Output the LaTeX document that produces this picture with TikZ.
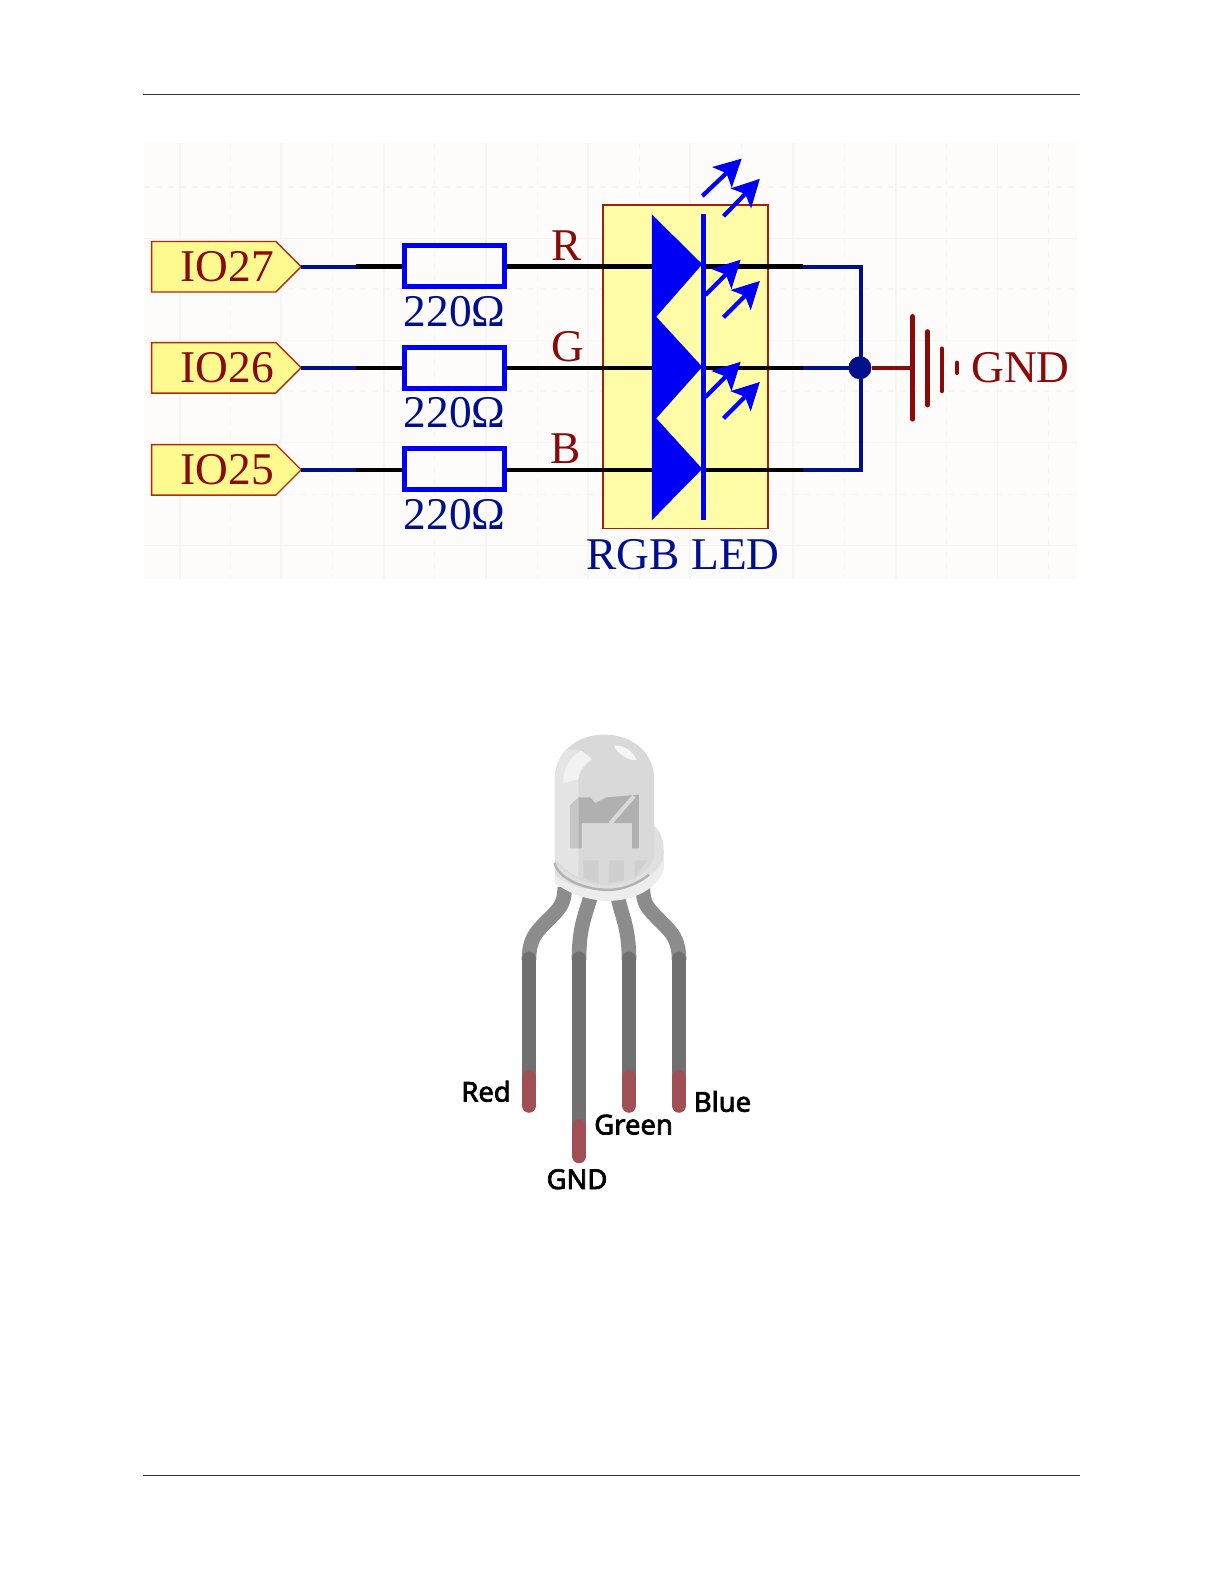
\documentclass[tikz,border=0pt]{standalone}
\usepackage{fontspec}
\setmainfont{Liberation Serif}
\newfontfamily\lblfont[FakeBold=2.6]{Noto Sans}
\usetikzlibrary{arrows.meta}
\definecolor{panelbg}{HTML}{FEFCFA}
\definecolor{gridc}{HTML}{F7F5F2}
\definecolor{tagfill}{HTML}{FFFA90}
\definecolor{boxfill}{HTML}{FFFCA8}
\definecolor{dkred}{HTML}{8A0A0A}
\definecolor{navyw}{HTML}{000F8C}
\definecolor{rblue}{HTML}{0000F5}
\definecolor{legup}{HTML}{8C8C8C}
\definecolor{legdn}{HTML}{707070}
\definecolor{legtip}{HTML}{A05055}
\tikzset{
  x=0.50525pt,y=-0.50525pt,
  rule/.style={line width=0.6pt,black!80},
  gridmaj/.style={gridc,line width=0.8pt},
  gridmin/.style={gridc,line width=0.6pt,dash pattern=on 3pt off 3pt},
  tagshape/.style={draw=dkred!70!orange,fill=tagfill,line width=0.7pt},
  tagtext/.style={text=dkred,font=\fontsize{22.7}{24}\selectfont,inner sep=0pt},
  valtext/.style={text=navyw,font=\fontsize{22.7}{24}\selectfont,inner sep=0pt},
  resistor/.style={draw=rblue,line width=2.4pt,minimum width=50pt,minimum height=20.5pt,inner sep=0pt},
  blackw/.style={black,line width=2.3pt},
  bluew/.style={navyw,line width=2.2pt},
  redw/.style={dkred,line width=2.2pt},
  ledbar/.style={rblue,line width=2.3pt},
  emit/.style={rblue,line width=2.1pt,-{Stealth[length=13.5pt,width=14pt,inset=3pt]}},
  batbar/.style={dkred,line width=2.2pt,line cap=round},
  pinlbl/.style={font=\lblfont\fontsize{13.7}{16}\selectfont,inner sep=0pt,text=black},
  legu/.style={legup,line width=7.3pt,line join=round},
  legd/.style={legdn,line width=7.3pt,line cap=round},
  legt/.style={legtip,line width=7.3pt,line cap=round},
}
\newcommand{\tagat}[3]{%
  \path[tagshape] (150,#1-25) -- (273,#1-25) -- (298,#1) -- (273,#1+25) -- (150,#1+25) -- cycle;
  \coordinate (#2tip) at (298,#1);
  \node[tagtext] (#2txt) at (225,#1) {#3};
}
\begin{document}
\begin{tikzpicture}
\useasboundingbox (0,0) rectangle (1211.3,1567.6);
\fill[white] (0,0) rectangle (1211.3,1567.6);
% page rules
\coordinate (rt1) at (142,93.5); \coordinate (rt2) at (1069,93.5);
\coordinate (rb1) at (142,1460); \coordinate (rb2) at (1069,1460);
\draw[rule] (rt1) -- (rt2);
\draw[rule] (rb1) -- (rb2);
% schematic sheet
\fill[panelbg] (143,142) rectangle (1066,573);
\foreach \gx in {228,329,430,532,633,734,836,937,1038} \draw[gridmin] (\gx,142) -- (\gx,573);
\foreach \gy in {185,286,387,489} \draw[gridmin] (143,\gy) -- (1066,\gy);
\foreach \gx in {178,278,380,481,582,683,785,887,987} \draw[gridmaj] (\gx,142) -- (\gx,573);
\foreach \gy in {236,337,438,540} \draw[gridmaj] (143,\gy) -- (1066,\gy);
% LED box
\path[draw=dkred!80!orange,fill=boxfill,line width=0.8pt] (597,203) rectangle (760,523);
% tags
\tagat{264}{a}{IO27}
\tagat{364}{b}{IO26}
\tagat{465}{c}{IO25}
% resistors
\node[resistor] (r1) at (450,263) {};
\node[resistor] (r2) at (450,364) {};
\node[resistor] (r3) at (450,464) {};
\node[valtext] (v1) at (450,308) {220Ω};
\node[valtext] (v2) at (450,408) {220Ω};
\node[valtext] (v3) at (450,509) {220Ω};
% junction points of wire colours
\foreach \n/\y in {1/264,2/364,3/465}{
  \coordinate (ls\n) at (352,\y);
  \coordinate (la\n) at (645,\y);
  \coordinate (lk\n) at (696,\y);
  \coordinate (rs\n) at (795,\y);
  \coordinate (rb\n) at (852,\y);
}
\draw[bluew] (atip) -- (ls1); \draw[blackw] (ls1) -- (r1.west |- ls1);
\draw[bluew] (btip) -- (ls2); \draw[blackw] (ls2) -- (r2.west |- ls2);
\draw[bluew] (ctip) -- (ls3); \draw[blackw] (ls3) -- (r3.west |- ls3);
\draw[blackw] (r1.east |- la1) -- (la1);
\draw[blackw] (r2.east |- la2) -- (la2);
\draw[blackw] (r3.east |- la3) -- (la3);
\draw[blackw] (lk1) -- (rs1);
\draw[blackw] (lk2) -- (rs2);
\draw[blackw] (lk3) -- (rs3);
\draw[bluew,line join=miter] (rs1) -- (rb1) -- (rb3) -- (rs3);
\draw[bluew] (rs2) -- (rb2);
\node[tagtext] (lr) at (561,243) {R};
\node[tagtext] (lg) at (562,343) {G};
\node[tagtext] (lb) at (560,444) {B};
% LED symbol
\fill[rblue] (645,212) -- (695,261.5) -- (649.5,313.5) -- (695,363) -- (649.5,414) -- (695,464) -- (645,515) -- cycle;
\draw[ledbar] (696,212) -- (696,515);
\coordinate (e1a) at (695,194); \coordinate (e1b) at (734,157);
\coordinate (e2a) at (716,214); \coordinate (e2b) at (752,177);
\coordinate (e3a) at (698,292); \coordinate (e3b) at (733,257);
\coordinate (e4a) at (716,314); \coordinate (e4b) at (752,278);
\coordinate (e5a) at (698,393); \coordinate (e5b) at (733,358);
\coordinate (e6a) at (716,414); \coordinate (e6b) at (752,378);
\foreach \i in {1,...,6} \draw[emit] (e\i a) -- (e\i b);
\node[valtext] (rgb) at (676,549) {RGB LED};
% junction and ground
\node[circle,fill=navyw,minimum size=11.5pt,inner sep=0pt] (jn) at (851,364) {};
\coordinate (g0) at (903,364);
\draw[redw] (jn) -- (g0);
\draw[batbar] (903,313) -- (903,415);
\draw[batbar] (918,328) -- (918,401);
\draw[batbar] (932,345) -- (932,387);
\draw[batbar] (947,359) -- (947,369);
\node[tagtext] (gnd) at (1010,364) {GND};
% pins
\draw[legu] (559,878) .. controls (558,895) and (556,897) .. (540,913) .. controls (530,923) and (523.5,930) .. (523.5,950);
\draw[legu] (585,885) .. controls (580,905) and (573,915) .. (573,950);
\draw[legu] (611,885) .. controls (614,905) and (622.5,915) .. (622.5,950);
\draw[legu] (636,878) .. controls (637,895) and (639,897) .. (655,913) .. controls (665,923) and (672,930) .. (672,950);
\coordinate (p1) at (523.5,949); \coordinate (p1r) at (523.5,1066); \coordinate (p1e) at (523.5,1094);
\coordinate (p2) at (573,949); \coordinate (p2r) at (573,1115); \coordinate (p2e) at (573,1144);
\coordinate (p3) at (622.5,949); \coordinate (p3r) at (622.5,1066); \coordinate (p3e) at (622.5,1094);
\coordinate (p4) at (672,949); \coordinate (p4r) at (672,1066); \coordinate (p4e) at (672,1094);
\foreach \i in {1,2,3,4}{
  \draw[legd] (p\i) -- (p\i r);
  \draw[legt] (p\i r) -- (p\i e);
}
\node[pinlbl] (tred) at (481,1080) {Red};
\node[pinlbl] (tgnd) at (571,1167) {GND};
\node[pinlbl] (tgrn) at (627,1113) {Green};
\node[pinlbl] (tblu) at (715,1090) {Blue};
% LED package, coordinates in units of one third of a pixel
\begin{scope}[shift={(494,703)},x=0.16842pt,y=-0.16842pt]
  % flange
  \fill[gray!24] (440,330) .. controls (480,350) and (492,385) .. (488,440) -- (488,470)
     .. controls (470,530) and (400,565) .. (325,565) .. controls (270,565) and (210,545) .. (165,512) -- (165,440) -- cycle;
  \fill[gray!14] (165,490) .. controls (220,530) and (280,535) .. (330,535) .. controls (400,530) and (470,490) .. (488,440)
     -- (488,470) .. controls (470,530) and (400,565) .. (325,565) .. controls (270,565) and (210,545) .. (178,520) -- (165,512) -- cycle;
  % dome
  \fill[gray!30] (165,205) .. controls (165,125) and (230,72) .. (312,72) .. controls (395,72) and (460,125) .. (460,205)
     -- (460,430) .. controls (450,480) and (390,515) .. (320,520) .. controls (260,520) and (190,490) .. (165,440) -- cycle;
  \fill[gray!20] (165,205) .. controls (165,170) and (180,135) .. (205,115) -- (245,120) -- (235,200) -- (235,495)
     .. controls (205,480) and (180,460) .. (165,440) -- cycle;
  % chip
  \fill[gray!62] (235,258) -- (270,258) -- (285,275) -- (320,258) -- (415,250) -- (415,410) -- (395,410) -- (395,335) -- (245,335) -- (245,410) -- (235,410) -- cycle;
  \fill[gray!45] (210,282) -- (235,258) -- (235,410) -- (210,410) -- cycle;
  \draw[gray!30,line width=2pt] (400,255) -- (330,335);
  % legs seen through the dome
  \fill[gray!38] (250,445) -- (295,445) -- (295,512) -- (250,500) -- cycle;
  \fill[gray!38] (325,445) -- (370,445) -- (370,505) -- (325,512) -- cycle;
  \fill[gray!38] (402,445) -- (440,445) -- (402,495) -- cycle;
  % highlights
  \fill[gray!10] (190,215) .. controls (190,175) and (205,140) .. (245,120) -- (275,145) .. controls (250,165) and (235,185) .. (235,205) -- cycle;
  \fill[gray!8] (340,105) .. controls (370,100) and (400,125) .. (408,148) .. controls (380,150) and (350,125) .. (340,105) -- cycle;
  % rim line
  \draw[gray!60,line width=1.2pt] (165,452) .. controls (172,500) and (260,535) .. (330,533) .. controls (370,531) and (410,515) .. (445,488);
\end{scope}
\end{tikzpicture}
\end{document}
